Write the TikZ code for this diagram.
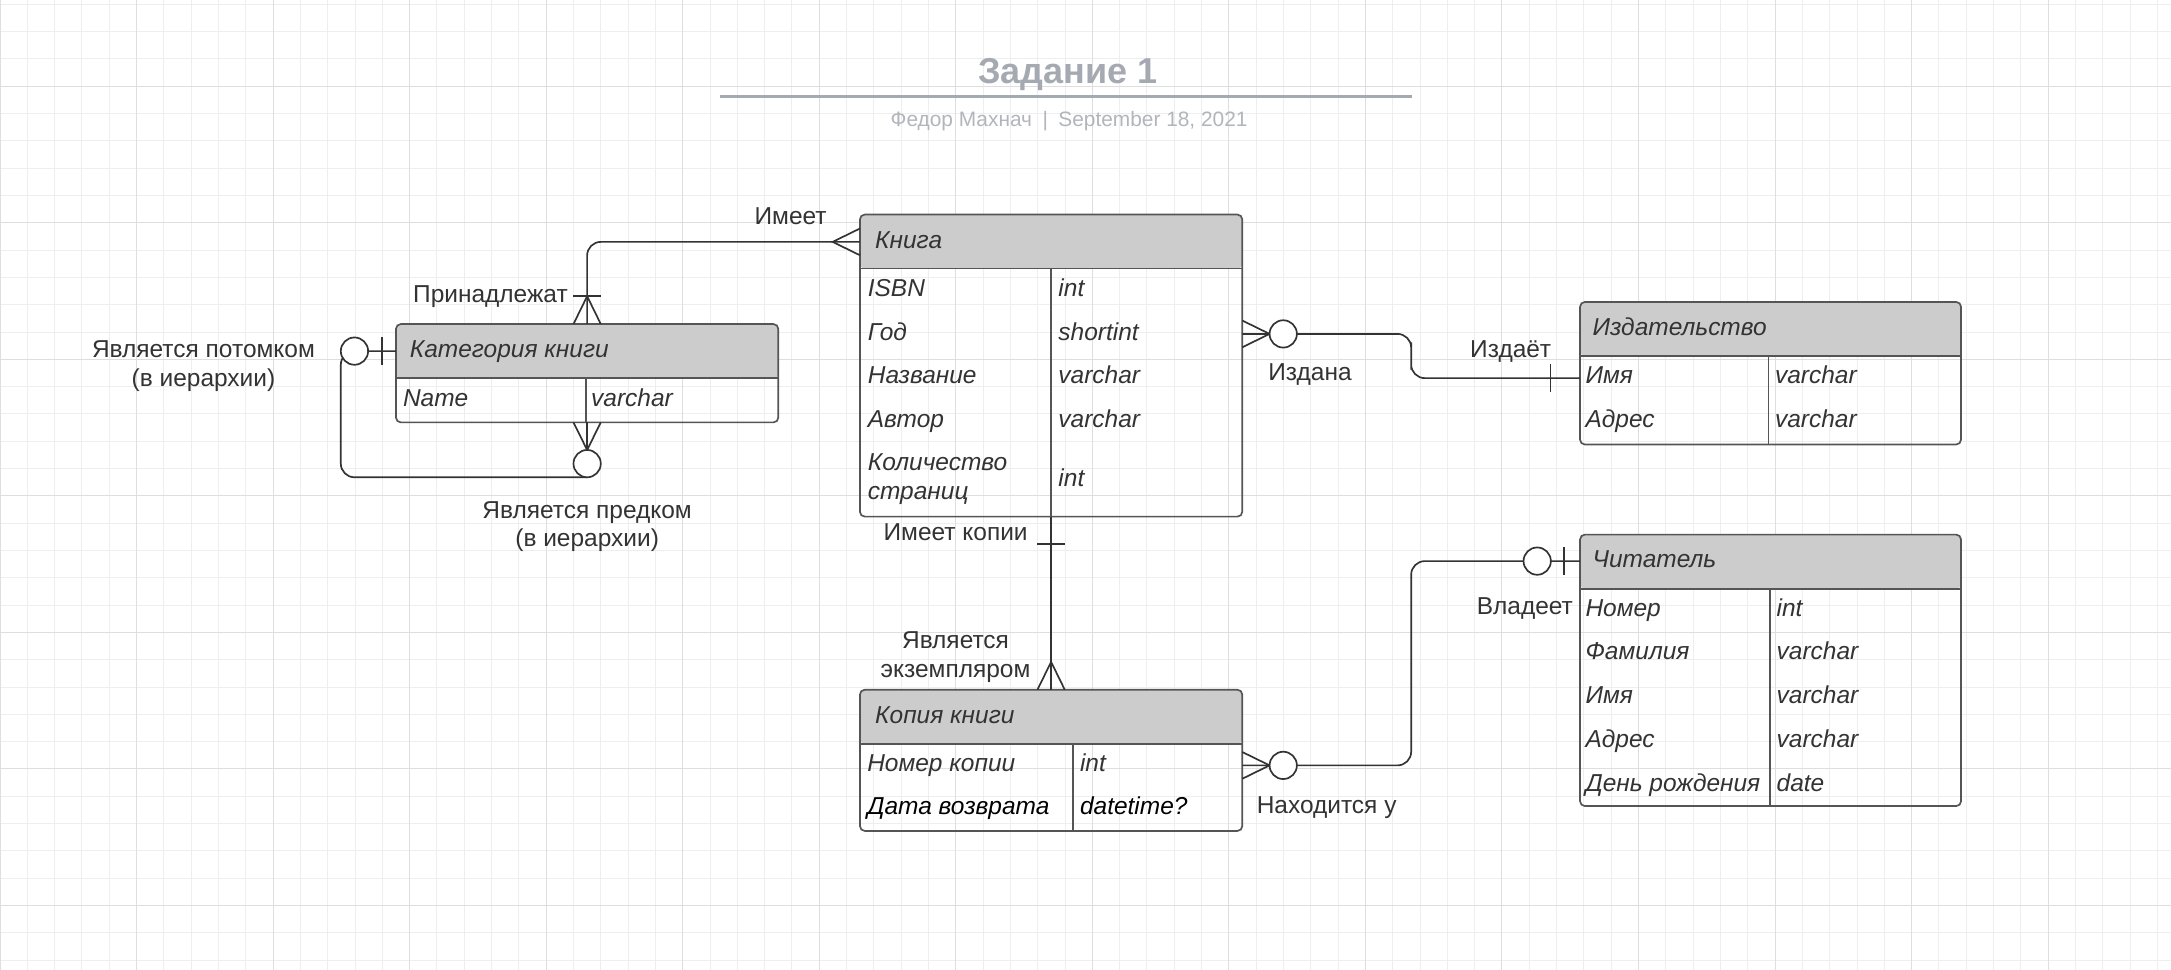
\documentclass[tikz,border=0pt]{standalone}
\usepackage{fontspec}
\setmainfont{Liberation Sans}
\usetikzlibrary{calc}

\definecolor{txt}{HTML}{333333}
\definecolor{boxline}{HTML}{555555}
\definecolor{hdrfill}{HTML}{CCCCCC}
\definecolor{gridminor}{HTML}{EEEEEE}
\definecolor{gridmajor}{HTML}{DEDEDE}
\definecolor{titlegray}{HTML}{A5AAB2}
\definecolor{subgray}{HTML}{B2B6BC}

\begin{document}
\begin{tikzpicture}[x=0.4cm, y=-0.4cm,
    every node/.style={inner sep=0pt, outer sep=0pt, text=txt, font=\fontsize{10.2}{12}\selectfont},
    entity/.style={draw=boxline, line width=0.7pt, rounded corners=2pt, anchor=north west, minimum width=5.6cm,
        path picture={\fill[hdrfill] (path picture bounding box.north west) rectangle ([yshift=-0.792cm]path picture bounding box.north east);}},
    hdr/.style={anchor=base west, font=\itshape\fontsize{10.2}{12}\selectfont},
    attr/.style={anchor=base west, font=\itshape\fontsize{10.2}{12}\selectfont},
    rel/.style={anchor=base},
    conn/.style={draw=txt, line width=0.7pt},
    sep/.style={draw=boxline, line width=0.7pt}]

        % page and grid
        \useasboundingbox (0,-0.157) rectangle (79.5,35.33);
        \fill[white] (0,-0.157) rectangle (79.5,35.33);
        \foreach \x in {0,...,79} \draw[gridminor, line width=0.4pt] (\x,-0.2) -- (\x,35.4);
        \foreach \y in {0,...,35} \draw[gridminor, line width=0.4pt] (-0.1,\y) -- (79.6,\y);
        \foreach \x in {0,5,...,75} \draw[gridmajor, line width=0.4pt] (\x,-0.2) -- (\x,35.4);
        \foreach \y in {3,8,...,33} \draw[gridmajor, line width=0.4pt] (-0.1,\y) -- (79.6,\y);

        % title
        \node[rel, text=titlegray, font=\bfseries\fontsize{15}{18}\selectfont] (title) at (39.1,2.9) {Задание 1};
        \draw[titlegray, line width=1.3pt] (26.37,3.38) -- (51.72,3.38);
        \node[rel, text=subgray, font=\fontsize{8.7}{10}\selectfont] (subtitle) at (39.15,4.48) {Федор Махнач\enspace|\enspace September 18, 2021};

        % entities
        \node[entity, minimum height=4.424cm] (kniga) at (31.49,7.70) {};
        \node[entity, minimum height=1.44cm] (kat) at (14.50,11.71) {};
        \node[entity, minimum width=5.58cm, minimum height=2.088cm] (izd) at (57.86,10.90) {};
        \node[entity, minimum width=5.58cm, minimum height=3.976cm] (chit) at (57.86,19.42) {};
        \node[entity, minimum height=2.068cm] (kopiya) at (31.49,25.10) {};

        % header lines and column lines
        \draw[sep] ($(kniga.north west)+(0,1.98)$) -- ($(kniga.north east)+(0,1.98)$);
        \draw[sep] ($(kniga.north)+(0,1.98)$) -- (kniga.south);
        \draw[sep] ($(kat.north west)+(0,1.98)$) -- ($(kat.north east)+(0,1.98)$);
        \draw[sep] ($(kat.north west)+(6.95,1.98)$) -- ($(kat.south west)+(6.95,0)$);
        \draw[sep] ($(izd.north west)+(0,1.98)$) -- ($(izd.north east)+(0,1.98)$);
        \draw[sep] ($(izd.north west)+(6.9,1.98)$) -- ($(izd.south west)+(6.9,0)$);
        \draw[sep] ($(chit.north west)+(0,1.98)$) -- ($(chit.north east)+(0,1.98)$);
        \draw[sep] ($(chit.north west)+(6.95,1.98)$) -- ($(chit.south west)+(6.95,0)$);
        \draw[sep] ($(kopiya.north west)+(0,1.98)$) -- ($(kopiya.north east)+(0,1.98)$);
        \draw[sep] ($(kopiya.north west)+(7.81,1.98)$) -- ($(kopiya.south west)+(7.81,0)$);

        % Книга
        \node[hdr] (kniga-t) at (32.05,8.93) {Книга};
        \node[attr] (kniga-isbn) at (31.78,10.70) {ISBN};
        \node[attr] (kniga-isbn-t) at (38.76,10.70) {int};
        \node[attr] (kniga-god) at (31.78,12.30) {Год};
        \node[attr] (kniga-god-t) at (38.76,12.30) {shortint};
        \node[attr] (kniga-nazv) at (31.78,13.90) {Название};
        \node[attr] (kniga-nazv-t) at (38.76,13.90) {varchar};
        \node[attr] (kniga-avt) at (31.78,15.50) {Автор};
        \node[attr] (kniga-avt-t) at (38.76,15.50) {varchar};
        \node[anchor=west, align=left, font=\itshape\fontsize{10.2}{12.2}\selectfont] (kniga-kol) at (31.78,17.40) {Количество\\страниц};
        \node[attr] (kniga-kol-t) at (38.76,17.65) {int};

        % Категория книги
        \node[hdr] (kat-t) at (15.01,12.93) {Категория книги};
        \node[attr] (kat-name) at (14.76,14.71) {Name};
        \node[attr] (kat-name-t) at (21.65,14.71) {varchar};

        % Издательство
        \node[hdr] (izd-t) at (58.32,12.12) {Издательство};
        \node[attr] (izd-imya) at (58.06,13.89) {Имя};
        \node[attr] (izd-imya-t) at (65.0,13.89) {varchar};
        \node[attr] (izd-adr) at (58.06,15.50) {Адрес};
        \node[attr] (izd-adr-t) at (65.0,15.50) {varchar};

        % Читатель
        \node[hdr] (chit-t) at (58.32,20.64) {Читатель};
        \node[attr] (chit-nom) at (58.06,22.41) {Номер};
        \node[attr] (chit-nom-t) at (65.06,22.41) {int};
        \node[attr] (chit-fam) at (58.06,24.01) {Фамилия};
        \node[attr] (chit-fam-t) at (65.06,24.01) {varchar};
        \node[attr] (chit-imya) at (58.06,25.61) {Имя};
        \node[attr] (chit-imya-t) at (65.06,25.61) {varchar};
        \node[attr] (chit-adr) at (58.06,27.21) {Адрес};
        \node[attr] (chit-adr-t) at (65.06,27.21) {varchar};
        \node[attr] (chit-dr) at (58.06,28.81) {День рождения};
        \node[attr] (chit-dr-t) at (65.06,28.81) {date};

        % Копия книги
        \node[hdr] (kopiya-t) at (32.05,26.32) {Копия книги};
        \node[attr] (kopiya-nom) at (31.76,28.09) {Номер копии};
        \node[attr] (kopiya-nom-t) at (39.55,28.09) {int};
        \node[attr, text=black] (kopiya-data) at (31.76,29.68) {Дата возврата};
        \node[attr, text=black] (kopiya-data-t) at (39.55,29.68) {datetime?};

        % Книга -- Категория книги
        \coordinate (kniga-l) at ($(kniga.north west)+(0,1)$);
        \draw[conn, rounded corners=0.2cm] (kniga-l) -| (kat.north);
        \draw[conn] ($(kniga-l)+(0,-0.49)$) -- ($(kniga-l)+(-1,0)$) -- ($(kniga-l)+(0,0.49)$);
        \draw[conn] ($(kat.north)+(-0.5,-1.02)$) -- ($(kat.north)+(0.5,-1.02)$);
        \draw[conn] ($(kat.north)+(-0.5,0)$) -- ($(kat.north)+(0,-1.02)$) -- ($(kat.north)+(0.5,0)$);
        \node[anchor=base east] (l-imeet) at (30.27,8.06) {Имеет};
        \node[anchor=base east] (l-prin) at (20.79,10.91) {Принадлежат};

        % Категория книги -- Категория книги
        \coordinate (kat-l) at ($(kat.north west)+(0,0.99)$);
        \draw[conn, rounded corners=0.2cm] (kat-l) -| ($(kat.south)+(-9.02,2.01)$) -- ($(kat.south)+(0,2.01)$);
        \draw[conn] ($(kat.south)+(0,2.01)$) -- (kat.south);
        \draw[conn] ($(kat-l)+(-0.52,-0.5)$) -- ($(kat-l)+(-0.52,0.5)$);
        \draw[conn, fill=white] ($(kat-l)+(-1.52,0)$) circle (0.2cm);
        \draw[conn] ($(kat.south)+(-0.5,0)$) -- ($(kat.south)+(0,1.01)$) -- ($(kat.south)+(0.5,0)$);
        \draw[conn, fill=white] ($(kat.south)+(0,1.51)$) circle (0.2cm);
        \node[align=center] (l-potomok) at (7.45,13.24) {Является потомком\\(в иерархии)};
        \node[align=center] (l-predok) at (21.5,19.13) {Является предком\\(в иерархии)};

        % Книга -- Издательство
        \coordinate (kniga-r) at ($(kniga.north east)+(0,4.37)$);
        \coordinate (izd-l) at ($(izd.north west)+(0,2.79)$);
        \draw[conn, rounded corners=0.2cm] (kniga-r) -| ($(kniga-r)!0.5!(izd-l)$) |- (izd-l);
        \draw[conn] ($(kniga-r)+(0,-0.49)$) -- ($(kniga-r)+(1,0)$) -- ($(kniga-r)+(0,0.49)$);
        \draw[conn, fill=white] ($(kniga-r)+(1.5,0)$) circle (0.2cm);
        \draw[conn] ($(izd-l)+(-1.08,-0.5)$) -- ($(izd-l)+(-1.08,0.5)$);
        \node[rel] (l-izdana) at (47.97,13.79) {Издана};
        \node[rel] (l-izdaet) at (55.32,12.93) {Издаёт};

        % Книга -- Копия книги
        \draw[conn] (kniga.south) -- (kopiya.north);
        \draw[conn] ($(kniga.south)+(-0.5,1.01)$) -- ($(kniga.south)+(0.5,1.01)$);
        \draw[conn] ($(kopiya.north)+(-0.5,0)$) -- ($(kopiya.north)+(0,-1.02)$) -- ($(kopiya.north)+(0.5,0)$);
        \node[anchor=base east] (l-kopii) at (37.63,19.63) {Имеет копии};
        \node[align=center] (l-ekz) at (34.99,23.90) {Является\\экземпляром};

        % Копия книги -- Читатель
        \coordinate (kop-r) at ($(kopiya.north east)+(0,2.77)$);
        \coordinate (chit-l) at ($(chit.north west)+(0,0.97)$);
        \draw[conn, rounded corners=0.2cm] (kop-r) -| ($(kop-r)!0.5!(chit-l)$) |- (chit-l);
        \draw[conn] ($(kop-r)+(0,-0.49)$) -- ($(kop-r)+(1,0)$) -- ($(kop-r)+(0,0.49)$);
        \draw[conn, fill=white] ($(kop-r)+(1.5,0)$) circle (0.2cm);
        \draw[conn] ($(chit-l)+(-0.58,-0.5)$) -- ($(chit-l)+(-0.58,0.5)$);
        \draw[conn, fill=white] ($(chit-l)+(-1.57,0)$) circle (0.2cm);
        \node[rel] (l-nahod) at (48.58,29.62) {Находится у};
        \node[anchor=base east] (l-vlad) at (57.6,22.36) {Владеет};

\end{tikzpicture}
\end{document}
